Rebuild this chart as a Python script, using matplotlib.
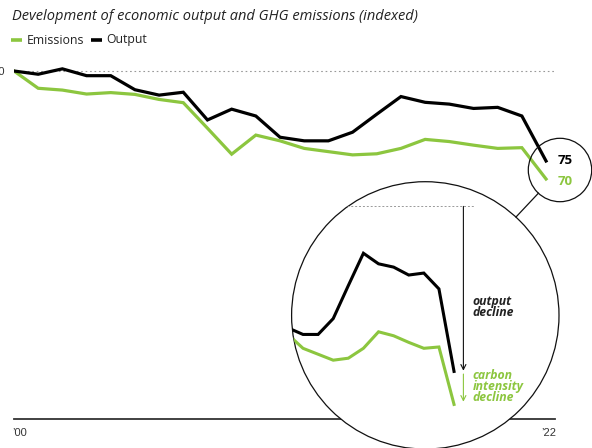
import numpy as np
import matplotlib
matplotlib.use("Agg")
import matplotlib.pyplot as plt
from matplotlib.patches import Ellipse, Circle
from matplotlib.lines import Line2D

# Data (index, 2000 = 100)
years = np.arange(2000, 2023)
output = [100, 99.1, 100.6, 98.7, 98.7, 94.8, 93.3, 94.1, 86.4, 89.4, 87.5,
          81.6, 80.6, 80.6, 83.0, 88.0, 92.9, 91.3, 90.8, 89.6, 89.9, 87.5, 75]
emissions = [100, 95.2, 94.7, 93.6, 94.0, 93.5, 92.1, 91.2, 84.1, 76.9, 82.2,
             80.6, 78.5, 77.6, 76.7, 77.0, 78.5, 81.0, 80.4, 79.4, 78.5, 78.7, 70]
end_labels = ["75", "70"]
tick_labels = ["\u201900", "\u201922"]

GREEN = "#8CC63F"
DARK = "#000000"

plt.rcParams["font.family"] = ["Open Sans", "DejaVu Sans"]

W, H = 592, 448
fig = plt.figure(figsize=(W / 100, H / 100), dpi=100)


def fx(px):
    return px / W


def fy(py):
    return 1 - py / H


# Main chart
y_lo, y_hi = 3.33, 104.0
ax = fig.add_axes([fx(14), fy(419), fx(555) - fx(14), fy(56.6) - fy(419)])
ax.set_xlim(2000, 2022.37)
ax.set_ylim(y_lo, y_hi)
ax.plot(years, emissions, color=GREEN, lw=2.3, solid_joinstyle="miter", zorder=3)
ax.plot(years, output, color=DARK, lw=2.3, solid_joinstyle="miter", zorder=4)
ax.axhline(100, color="#999999", lw=0.8, ls=(0, (1.5, 2.5)), zorder=1)
for s in ["top", "right", "left"]:
    ax.spines[s].set_visible(False)
ax.spines["bottom"].set_color("#333333")
ax.spines["bottom"].set_linewidth(1.3)
ax.set_xticks([])
ax.set_yticks([])
ax.patch.set_alpha(0)

ax.annotate(end_labels[0], (years[-1], output[-1]), xytext=(8, 0),
            textcoords="offset points", va="center", ha="left",
            fontsize=9.5, fontweight="bold", color=DARK)
ax.annotate(end_labels[1], (years[-1], emissions[-1]), xytext=(8, -2),
            textcoords="offset points", va="center", ha="left",
            fontsize=9.5, fontweight="bold", color=GREEN)

# Tick labels; the 100 label sits mostly past the left edge
fig.text(fx(12), fy(433), tick_labels[0], fontsize=8, color="#333333",
         va="center", ha="left", family=["Liberation Sans", "DejaVu Sans"])
fig.text(fx(556), fy(433), tick_labels[1], fontsize=8, color="#333333",
         va="center", ha="right", family=["Liberation Sans", "DejaVu Sans"])
fig.text(fx(5), fy(72), "100", fontsize=8, color="#333333", va="center",
         ha="right", family=["Liberation Sans", "DejaVu Sans"])

# Subtitle and legend
fig.text(fx(12), fy(16), "Development of economic output and GHG emissions (indexed)",
         fontsize=10.5, style="italic", color="#222222", va="center", ha="left")
fig.add_artist(Line2D([fx(11), fx(22)], [fy(40), fy(40)], color=GREEN, lw=2.6,
                      solid_capstyle="butt"))
fig.text(fx(26.5), fy(40), "Emissions", fontsize=8.8, color="#222222",
         va="center", ha="left")
fig.add_artist(Line2D([fx(90.5), fx(101.5)], [fy(40), fy(40)], color=DARK, lw=2.6,
                      solid_capstyle="butt"))
fig.text(fx(106), fy(40), "Output", fontsize=8.8, color="#222222",
         va="center", ha="left")

# Small circle around the end values and connector to the zoom
fig.add_artist(Ellipse((fx(560), fy(170)), 63.4 / W, 63.4 / H, fill=False,
                       edgecolor="#111111", lw=0.9, zorder=5))
fig.add_artist(Line2D([fx(538.4), fx(516)], [fy(193.2), fy(217)],
                      color="#111111", lw=0.9, zorder=5))

# Zoomed view of the last decade
cx, cy, r = 425.3, 315.4, 133.7
ins = fig.add_axes([fx(cx - r), fy(cy + r), 2 * r / W, 2 * r / H])
ins.set_xlim(2011.245, 2028.95)
ins.set_ylim(63.23, 103.74)
ins.axis("off")
ins.patch.set_alpha(0)
disc = Circle((0.5, 0.5), 0.5, transform=ins.transAxes, facecolor="white",
              edgecolor="#111111", lw=0.9, zorder=0, clip_on=False)
ins.add_patch(disc)

zoom = years >= 2010
l1, = ins.plot(years[zoom], np.array(emissions)[zoom], color=GREEN, lw=2.2,
               solid_joinstyle="miter", zorder=3)
l2, = ins.plot(years[zoom], np.array(output)[zoom], color=DARK, lw=2.2,
               solid_joinstyle="miter", zorder=4)
l3, = ins.plot([2010, 2023.4], [100, 100], color="#999999", lw=0.7,
               ls=(0, (2, 2)), zorder=2)
for ln in (l1, l2, l3):
    ln.set_clip_path(disc)

ax_x = 2022.62
ins.annotate("", xy=(ax_x, 75.1), xytext=(ax_x, 100),
             arrowprops=dict(arrowstyle="->", color="#111111", lw=0.8,
                             shrinkA=0, shrinkB=0, mutation_scale=9))
ins.annotate("", xy=(ax_x, 70.4), xytext=(ax_x, 74.6),
             arrowprops=dict(arrowstyle="->", color=GREEN, lw=0.8,
                             shrinkA=0, shrinkB=0, mutation_scale=9))
ins.text(2023.25, 84.8, "output\ndecline", fontsize=8.8, style="italic",
         fontweight="bold", color="#222222", va="center", ha="left",
         linespacing=0.8)
ins.text(2023.25, 72.7, "carbon\nintensity\ndecline", fontsize=8.8,
         style="italic", fontweight="bold", color=GREEN, va="center",
         ha="left", linespacing=0.8)

fig.savefig("out.png", dpi=100)
